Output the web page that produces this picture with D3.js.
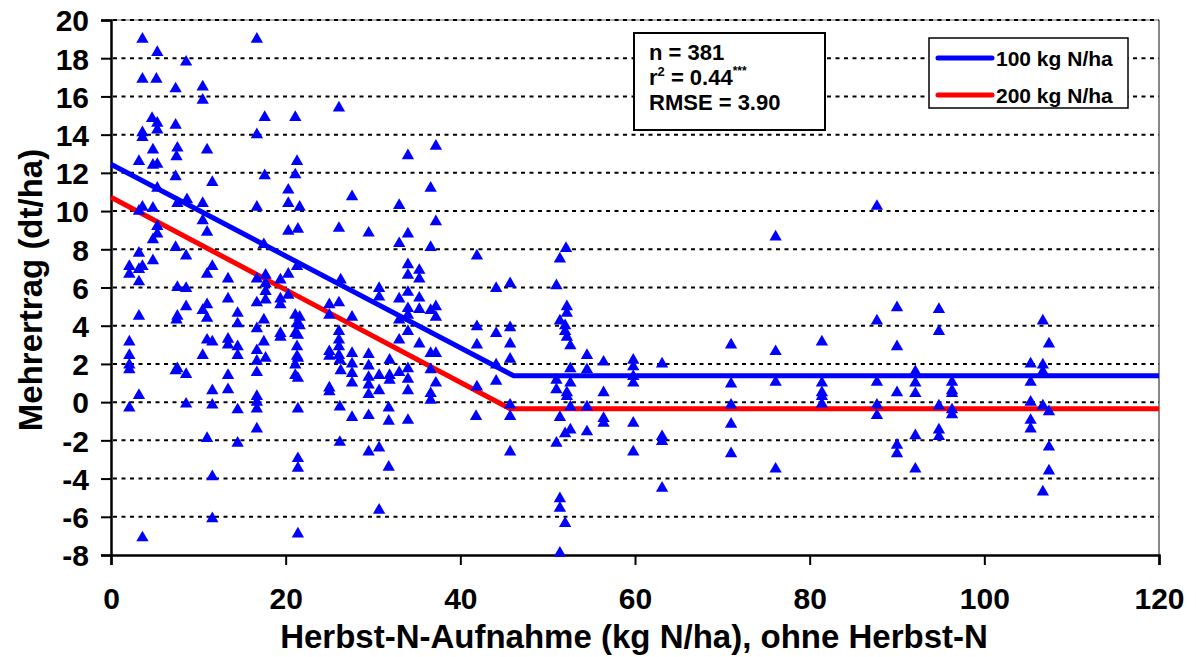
<!DOCTYPE html>
<html>
<head>
<meta charset="utf-8">
<script src="https://cdn.jsdelivr.net/npm/d3@7"></script>
<style>
  body { margin: 0; background: #fff; }
  svg text { font-family: "Liberation Sans", Arial, sans-serif; font-weight: bold; fill: #000; }
</style>
</head>
<body>
<script>

// Herbst-N-Aufnahme (x) vs Mehrertrag (y)
var pointX = [
	3.6,16.7,5.3,8.6,3.6,5.2,7.4,10.5,10.5,4.7,5.3,5.3,7.4,3.6,3.6,17.6,21.1,16.7,4.8,7.6,7.5,11.0,3.2,4.8,5.3,7.4,11.6,17.6,21.3,21.1,20.3,20.3,3.6,4.8,5.3,7.6,8.7,10.5,16.7,
	3.2,5.3,5.3,4.8,10.5,11.0,20.3,7.4,8.6,3.2,2.1,2.1,3.2,3.6,4.8,3.2,11.6,11.0,13.4,17.5,16.7,17.7,17.7,19.4,20.3,21.3,7.6,8.6,17.7,17.7,16.7,19.4,19.4,20.3,13.4,8.6,11.0,10.5,7.6,7.5,11.0,3.2,14.5,14.5,17.5,16.7,19.4,19.4,21.1,21.3,21.1,2.1,2.1,2.1,2.1,11.0,11.6,13.4,13.4,14.5,14.5,17.5,16.7,16.7,17.7,21.3,21.3,21.1,21.1,10.5,7.6,7.4,8.6,16.7,13.4,11.6,13.4,3.2,16.7,
	16.7,16.7,2.1,8.6,11.6,14.5,21.4,16.7,11.0,14.5,21.4,21.4,11.6,11.6,3.6,21.4,
	26.1,37.2,34.0,36.6,27.6,33.0,21.6,
	37.2,21.4,26.1,29.5,34.0,33.0,36.6,41.9,34.0,34.0,35.3,35.3,26.3,30.7,30.7,33.0,34.0,35.3,25.0,26.1,25.0,27.6,34.0,34.0,33.0,35.3,36.6,37.2,37.2,26.1,26.1,26.1,26.1,26.2,25.0,25.0,27.6,27.6,29.5,29.5,31.9,34.0,35.3,33.0,36.6,37.2,41.9,41.9,36.6,26.3,27.6,27.6,29.5,30.7,31.9,31.9,33.0,34.0,34.0,37.2,25.0,25.0,29.5,29.5,30.7,34.0,36.6,41.9,
	21.6,21.6,21.4,21.4,21.4,
	36.6,26.2,27.6,29.5,31.8,31.8,34.0,41.8,26.2,29.5,30.7,31.8,30.7,
	52.1,51.4,44.1,45.7,51.0,52.2,52.2,51.4,52.0,52.0,52.2,52.6,44.1,45.7,45.7,45.7,44.1,44.1,52.6,54.5,54.5,56.4,59.8,59.8,59.8,59.8,63.1,51.0,51.0,52.6,52.2,52.2,56.4,
	45.7,45.7,52.6,54.5,51.4,56.4,56.4,59.8,52.0,52.6,54.5,63.1,63.1,51.0,45.7,59.8,63.1,51.4,51.4,52.0,51.4,
	87.7,76.1,90.0,87.7,71.0,76.1,81.4,90.0,71.0,76.1,81.4,81.4,81.4,81.4,87.7,87.7,87.7,90.0,92.1,92.1,92.1,71.0,71.0,71.0,76.1,90.0,90.0,92.1,92.1,
	94.8,94.8,96.3,96.3,96.3,94.8,96.3,96.3,94.8,94.8,106.7,107.4,105.3,105.3,106.7,106.7,105.3,106.7,107.4,105.3,105.3,107.4,107.4,106.7
];
var pointY = [
	19.0,19.0,18.3,17.8,16.9,16.9,16.4,16.5,15.8,14.85,14.6,14.25,14.5,14.1,13.85,14.9,14.9,14.0,13.2,13.3,12.85,13.2,12.6,12.4,12.45,11.8,11.5,11.85,12.6,11.9,11.1,10.4,10.2,10.15,11.2,10.4,10.6,10.4,10.2,
	10.0,9.2,8.8,8.5,9.5,8.9,8.95,8.1,7.65,7.8,7.1,6.7,6.95,7.1,7.4,6.3,7.1,6.7,6.45,8.25,6.45,6.65,6.2,6.4,6.7,7.1,6.0,5.95,5.8,5.35,5.2,5.4,5.1,5.6,5.4,5.0,5.1,4.8,4.5,4.3,4.4,4.5,4.65,4.1,4.3,3.85,3.6,3.4,4.55,4.1,3.6,3.15,2.45,1.95,1.7,3.25,3.15,3.3,3.0,2.9,2.45,3.15,2.7,2.15,2.3,2.9,2.4,1.95,1.4,2.45,1.75,1.65,1.45,1.55,1.4,0.6,0.65,0.35,0.3,
	0.0,-0.35,-0.3,-0.1,-0.15,-0.4,-0.35,-1.4,-1.9,-2.15,-2.95,-3.45,-3.9,-6.1,-7.1,-6.9,
	15.4,13.4,12.9,11.2,10.75,10.3,10.2,
	9.45,9.05,9.1,8.85,8.8,8.3,8.1,7.65,7.2,6.65,6.9,6.45,6.4,5.95,5.5,5.4,5.75,5.45,5.1,5.2,4.55,4.45,4.9,4.55,4.3,4.85,4.8,5.0,4.45,3.7,3.25,2.9,2.45,2.2,2.65,2.4,2.55,2.0,2.5,1.9,2.2,3.7,3.05,3.25,2.55,2.55,3.95,3.0,1.7,1.65,1.5,1.0,1.3,1.4,1.4,1.15,1.55,1.75,1.2,1.0,0.75,0.55,0.9,0.4,0.6,0.6,0.45,0.8,
	4.45,4.0,3.5,2.3,1.25,
	0.1,-0.25,-0.8,-0.7,-0.3,-1.0,-0.95,-0.75,-2.1,-2.6,-2.4,-3.4,-5.65,
	8.05,7.5,5.95,6.2,6.1,5.0,4.65,4.25,4.0,3.7,3.4,2.95,3.6,3.9,3.05,2.25,1.95,1.1,1.75,2.45,1.7,2.1,2.2,1.85,1.35,1.0,2.0,1.15,0.65,1.0,0.5,0.3,0.5,
	-0.15,-0.75,-0.25,-0.25,-0.8,-0.85,-1.1,-1.1,-1.65,-1.45,-1.55,-1.8,-2.05,-2.15,-2.6,-2.6,-4.5,-5.05,-5.55,-6.35,-7.9,
	10.25,8.65,4.95,4.25,3.0,2.65,3.15,2.9,0.95,1.05,1.0,0.5,0.3,-0.1,1.05,-0.15,-0.7,0.5,1.6,1.0,0.45,-0.15,-1.15,-2.7,-3.5,-2.25,-2.7,-1.75,-3.5,
	4.85,3.7,1.05,0.6,0.45,-0.2,-0.4,-0.65,-1.45,-1.8,4.25,3.05,2.0,1.05,1.95,1.6,0.0,-0.2,-0.5,-0.95,-1.4,-2.35,-3.6,-4.7
];

// fitted lines (linear-plateau), 100 and 200 kg N/ha
var fitNames = ["100 kg N/ha", "200 kg N/ha"];
var fitColors = ["#0000ff", "#ff0000"];
var fitX = [[0, 46.1, 120], [0, 45.7, 120]];
var fitY = [[12.45, 1.38, 1.38], [10.72, -0.34, -0.34]];

var xTicks = [0, 20, 40, 60, 80, 100, 120];
var yTicks = [-8, -6, -4, -2, 0, 2, 4, 6, 8, 10, 12, 14, 16, 18, 20];

var W = 1196, H = 657;
var plotLeft = 111, plotRight = 1159, plotTop = 20, plotBottom = 555;

var svg = d3.select("body")
	.append("svg")
	.attr("width", W)
	.attr("height", H);

var xScale = d3.scaleLinear().domain([0, 120]).range([plotLeft, plotRight]);
var yScale = d3.scaleLinear().domain([-8, 20]).range([plotBottom, plotTop]);

// plain hyphen for negatives, like the original
var fmt = function(d){ return String(d); };

// plot frame top/right (thin grey)
svg.append("line")
	.attr("x1", plotLeft).attr("x2", plotRight).attr("y1", plotTop).attr("y2", plotTop)
	.style("stroke", "#999").style("stroke-width", 1.5);
svg.append("line")
	.attr("x1", plotRight).attr("x2", plotRight).attr("y1", plotTop).attr("y2", plotBottom)
	.style("stroke", "#888").style("stroke-width", 2);

// dashed gridlines
svg.append("g")
	.selectAll("line")
	.data(yTicks.filter(function(d){ return d > -8; }))
	.enter()
	.append("line")
	.attr("x1", plotLeft + 2)
	.attr("x2", plotRight)
	.attr("y1", function(d){ return yScale(d); })
	.attr("y2", function(d){ return yScale(d); })
	.style("stroke", "#000")
	.style("stroke-width", 2)
	.style("stroke-dasharray", "4,4.5");

// axes
var xAxis = svg.append("g")
	.attr("transform", "translate(0," + plotBottom + ")")
	.call(d3.axisBottom(xScale).tickValues(xTicks).tickSize(10).tickPadding(22).tickFormat(fmt));
var yAxis = svg.append("g")
	.attr("transform", "translate(" + plotLeft + ",0)")
	.call(d3.axisLeft(yScale).tickValues(yTicks).tickSize(10).tickPadding(12).tickFormat(fmt));

[xAxis, yAxis].forEach(function(ax){
	ax.select(".domain").style("stroke", "#000").style("stroke-width", 2.5);
	ax.selectAll(".tick line").style("stroke", "#000").style("stroke-width", 2);
	ax.selectAll(".tick text")
		.style("font-family", "'Liberation Sans', Arial, sans-serif")
		.style("font-weight", "bold")
		.style("font-size", "30px")
		.style("fill", "#000");
});
yAxis.selectAll(".tick text").attr("dy", "0.36em");
xAxis.selectAll(".tick text").attr("dy", "0.72em");

// fit lines
var line = d3.line()
	.x(function(d){ return xScale(d[0]); })
	.y(function(d){ return yScale(d[1]); });

fitX.forEach(function(xs, i){
	var pts = xs.map(function(x, j){ return [x, fitY[i][j]]; });
	svg.append("path")
		.attr("d", line(pts))
		.style("fill", "none")
		.style("stroke", fitColors[i])
		.style("stroke-width", 5);
});

// points
var triangle = d3.symbol().type(d3.symbolTriangle).size(66);
svg.append("g")
	.selectAll("path")
	.data(pointX.map(function(x, i){ return [x, pointY[i]]; }))
	.enter()
	.append("path")
	.attr("d", triangle)
	.attr("transform", function(d){
		return "translate(" + xScale(d[0]) + "," + yScale(d[1]) + ")";
	})
	.style("fill", "#0000ff");

// stats box
svg.append("rect")
	.attr("x", 634).attr("y", 33).attr("width", 191).attr("height", 97)
	.style("fill", "#fff").style("stroke", "#000").style("stroke-width", 2);

svg.append("text").attr("x", 649).attr("y", 60).style("font-size", "22px").text("n = 381");
var r2 = svg.append("text").attr("x", 649).attr("y", 85).style("font-size", "22px");
r2.append("tspan").text("r");
r2.append("tspan").attr("dy", -9).style("font-size", "13px").text("2");
r2.append("tspan").attr("dy", 9).text(" = 0.44");
r2.append("tspan").attr("dy", -10).style("font-size", "12px").text("***");
svg.append("text").attr("x", 649).attr("y", 110).style("font-size", "22px").text("RMSE = 3.90");

// legend
svg.append("rect")
	.attr("x", 929).attr("y", 38).attr("width", 199).attr("height", 70)
	.style("fill", "#fff").style("stroke", "#000").style("stroke-width", 1.5);

fitNames.forEach(function(name, i){
	var ly = 58 + i * 37;
	svg.append("line")
		.attr("x1", 938).attr("x2", 992).attr("y1", ly).attr("y2", ly)
		.style("stroke", fitColors[i]).style("stroke-width", 5)
		.style("stroke-linecap", "round");
	svg.append("text")
		.attr("x", 996).attr("y", ly + 8)
		.style("font-size", "21px")
		.text(name);
});

// axis titles
svg.append("text")
	.attr("x", (plotLeft + plotRight) / 2 - 1)
	.attr("y", 648)
	.style("text-anchor", "middle")
	.style("font-size", "33px")
	.text("Herbst-N-Aufnahme (kg N/ha), ohne Herbst-N");

svg.append("text")
	.attr("transform", "translate(42," + 290 + ") rotate(-90)")
	.style("text-anchor", "middle")
	.style("font-size", "33px")
	.text("Mehrertrag (dt/ha)");

</script>
</body>
</html>
